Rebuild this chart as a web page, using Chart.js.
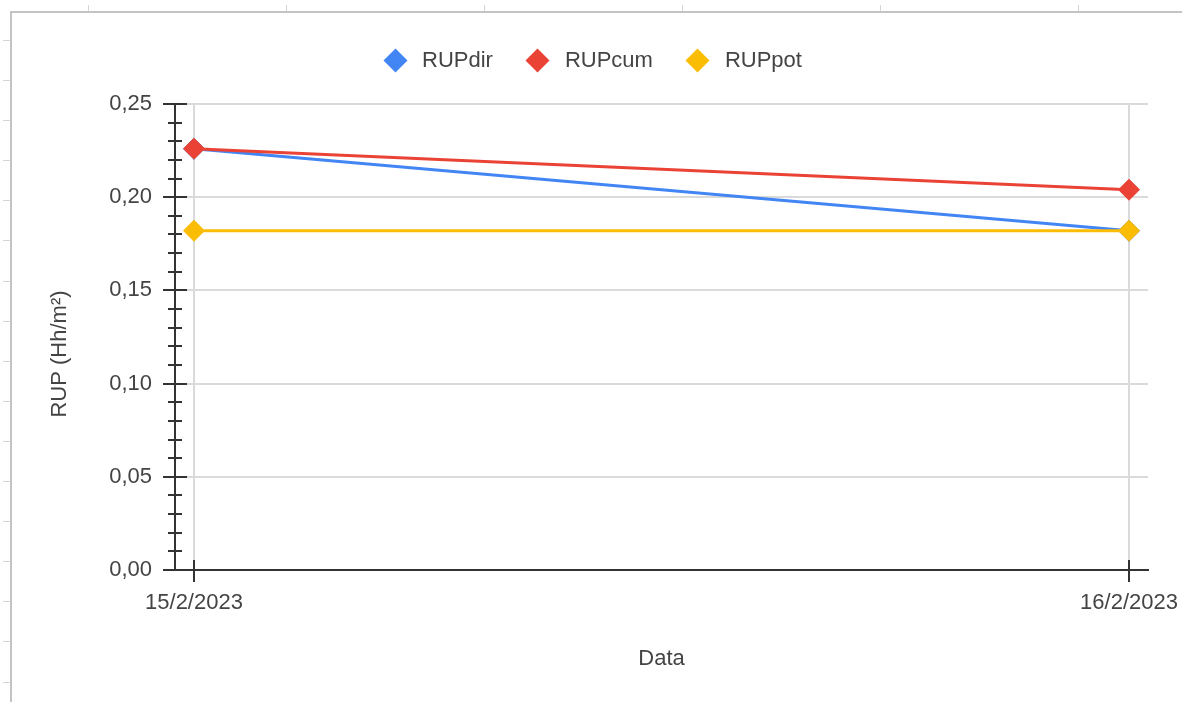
<!DOCTYPE html>
<html>
<head>
<meta charset="utf-8">
<title>RUP</title>
<script src="https://cdn.jsdelivr.net/npm/chart.js@4/dist/chart.umd.min.js"></script>
<style>
  html, body { margin: 0; padding: 0; background: #fff; }
  #wrap { position: relative; width: 1182px; height: 702px; overflow: hidden;
          font-family: "Liberation Sans", Arial, sans-serif; }
  #frame { position: absolute; left: 10px; top: 11px; right: -4px; bottom: -4px;
           border-left: 2px solid #c4c4c4; border-top: 2px solid #c4c4c4; }
  #topticks { position: absolute; left: 88px; top: 5px; width: 1100px; height: 6px;
              background: repeating-linear-gradient(to right, #d4d4d4 0 1px, transparent 1px 198px); }
  #leftticks { position: absolute; left: 3px; top: 40px; width: 7px; height: 662px;
               background: repeating-linear-gradient(to bottom, #d4d4d4 0 1px, transparent 1px 40.1px); }
  #chartBox { position: absolute; left: 0; top: 0; width: 1182px; height: 702px; }
  #legend { position: absolute; left: 383px; top: 45px; height: 30px;
            display: flex; align-items: center; }
  #legend .item { display: flex; align-items: center; margin-right: 33px; }
  #legend .mkbox { width: 24px; height: 24px; display: flex; align-items: center;
                   justify-content: center; margin-right: 15px; }
  #legend .mk { width: 17px; height: 17px; transform: rotate(45deg); }
  #legend .tx { font-size: 22px; color: #444; line-height: 24px; }
</style>
</head>
<body>
<div id="wrap">
  <div id="topticks"></div>
  <div id="leftticks"></div>
  <div id="frame"></div>
  <div id="chartBox"><canvas id="rup"></canvas></div>
  <div id="legend"></div>
</div>
<script>
// Dates on the horizontal axis
const dates = ['15/2/2023', '16/2/2023'];
// RUP values (Hh/m²) per series
const rupDir = [0.226, 0.182];
const rupCum = [0.226, 0.204];
const rupPot = [0.182, 0.182];
// Series names and colours
const seriesNames = ['RUPdir', 'RUPcum', 'RUPpot'];
const seriesColors = ['#4285f4', '#ea4335', '#fbbc04'];
// Vertical axis labels
const yTickLabels = ['0,00', '0,05', '0,10', '0,15', '0,20', '0,25'];
const xTitle = 'Data';
const yTitle = 'RUP (Hh/m²)';

const FONT = '"Liberation Sans", Arial, sans-serif';
const TEXT = '#444';
const AXIS = '#333';

function series(values, i, order) {
  return {
    label: seriesNames[i],
    data: values.map((v, k) => ({ x: k, y: v })),
    borderColor: seriesColors[i],
    backgroundColor: seriesColors[i],
    borderWidth: 3,
    pointStyle: 'rectRot',
    pointRadius: 10.5,
    pointHoverRadius: 10.5,
    pointBorderWidth: 1,
    pointBorderColor: seriesColors[i],
    pointBackgroundColor: seriesColors[i],
    tension: 0,
    fill: false,
    order: order
  };
}

// HTML legend built from the chart's datasets
const htmlLegend = {
  id: 'htmlLegend',
  afterUpdate(chart) {
    const box = document.getElementById('legend');
    box.innerHTML = '';
    chart.data.datasets.forEach(ds => {
      const item = document.createElement('div');
      item.className = 'item';
      const mkbox = document.createElement('span');
      mkbox.className = 'mkbox';
      const mk = document.createElement('span');
      mk.className = 'mk';
      mk.style.background = ds.borderColor;
      mkbox.appendChild(mk);
      const tx = document.createElement('span');
      tx.className = 'tx';
      tx.textContent = ds.label;
      item.appendChild(mkbox);
      item.appendChild(tx);
      box.appendChild(item);
    });
  }
};

// Tick marks crossing both axes (major and minor on the value axis)
const axisMarks = {
  id: 'axisMarks',
  afterDraw(chart) {
    const { ctx, chartArea: a } = chart;
    const ys = chart.scales.y, xs = chart.scales.x;
    ctx.save();
    ctx.strokeStyle = AXIS;
    ctx.lineWidth = 2;
    ctx.beginPath();
    for (let i = 0; i <= 25; i++) {
      const py = Math.round(ys.getPixelForValue(i * 0.01));
      const h = i % 5 === 0 ? 12 : 7;
      ctx.moveTo(a.left - h, py);
      ctx.lineTo(a.left + h, py);
    }
    dates.forEach((_, i) => {
      const px = Math.round(xs.getPixelForValue(i));
      ctx.moveTo(px, a.bottom - 10);
      ctx.lineTo(px, a.bottom + 12);
    });
    ctx.stroke();

    // axis titles
    ctx.fillStyle = TEXT;
    ctx.font = '22px ' + FONT;
    ctx.textAlign = 'center';
    ctx.textBaseline = 'middle';
    ctx.fillText(xTitle, (a.left + a.right) / 2, a.bottom + 89);
    ctx.translate(a.left - 115, (a.top + a.bottom) / 2 + 17);
    ctx.rotate(-Math.PI / 2);
    ctx.fillText(yTitle, 0, 0);
    ctx.restore();
  }
};

new Chart(document.getElementById('rup'), {
  type: 'line',
  data: {
    datasets: [
      series(rupDir, 0, 3),
      series(rupCum, 1, 2),
      series(rupPot, 2, 1)
    ]
  },
  options: {
    responsive: true,
    maintainAspectRatio: false,
    animation: false,
    devicePixelRatio: 1,
    layout: { padding: { top: 104, right: 34, left: 0, bottom: 0 } },
    plugins: {
      legend: { display: false },
      tooltip: { enabled: false }
    },
    scales: {
      x: {
        type: 'linear',
        min: -0.0203,
        max: 1.0203,
        afterBuildTicks: s => { s.ticks = dates.map((_, i) => ({ value: i })); },
        afterFit: s => { s.height = 132; s.paddingLeft = 0; s.paddingRight = 0; },
        grid: { color: '#dadada', lineWidth: 2, drawTicks: false },
        border: { display: true, color: AXIS, width: 2 },
        ticks: {
          padding: 20,
          color: TEXT,
          font: { family: FONT, size: 22 },
          maxRotation: 0,
          autoSkip: false,
          callback: (v, i) => dates[i]
        }
      },
      y: {
        min: 0,
        max: 0.25,
        afterFit: s => { s.width = 175; s.paddingTop = 0; s.paddingBottom = 0; },
        grid: { color: '#dadada', lineWidth: 2, drawTicks: false },
        border: { display: true, color: AXIS, width: 2 },
        ticks: {
          stepSize: 0.05,
          padding: 23,
          color: TEXT,
          font: { family: FONT, size: 22 },
          callback: v => yTickLabels[Math.round(v / 0.05)]
        }
      }
    }
  },
  plugins: [htmlLegend, axisMarks]
});
</script>
</body>
</html>
